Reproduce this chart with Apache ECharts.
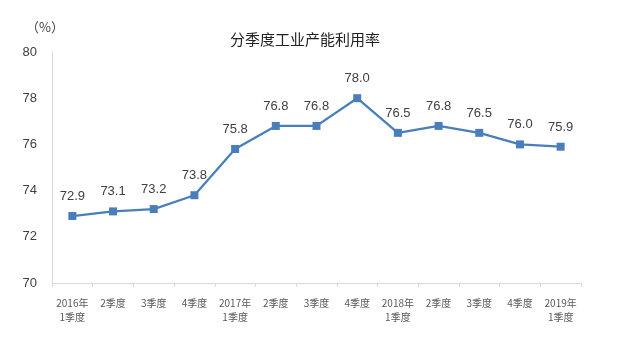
<!DOCTYPE html>
<html>
<head>
<meta charset="utf-8">
<script src="https://cdn.jsdelivr.net/npm/echarts@6/dist/echarts.min.js"></script>
<style>
  html, body { margin: 0; padding: 0; background: #fff; }
  #chart { width: 641px; height: 341px; }
</style>
</head>
<body>
<div id="chart"></div>
<script>
// Quarterly industrial capacity utilisation rate (%)
const categories = [
  '2016年\n1季度', '2季度', '3季度', '4季度',
  '2017年\n1季度', '2季度', '3季度', '4季度',
  '2018年\n1季度', '2季度', '3季度', '4季度',
  '2019年\n1季度'
];
const utilisation = [72.9, 73.1, 73.2, 73.8, 75.8, 76.8, 76.8, 78.0, 76.5, 76.8, 76.5, 76.0, 75.9];
const yTicks = [70, 72, 74, 76, 78, 80];

const fontCN = '"Microsoft YaHei", "Noto Sans CJK SC", sans-serif';

const chart = echarts.init(document.getElementById('chart'), null, { renderer: 'canvas' });
chart.setOption({
  animation: false,
  backgroundColor: '#ffffff',
  title: {
    text: '分季度工业产能利用率',
    left: 300,
    top: 27,
    textAlign: 'center',
    textStyle: { fontFamily: fontCN, fontSize: 15, fontWeight: 'normal', color: '#222' }
  },
  graphic: [{
    type: 'text',
    left: 26,
    top: 21,
    style: { text: '（%）', font: '13px ' + fontCN, fill: '#404040' }
  }],
  grid: { left: 52, right: 60, top: 52, bottom: 58 },
  xAxis: {
    type: 'category',
    data: categories,
    boundaryGap: true,
    axisLine: { lineStyle: { color: '#d9d9d9', width: 1 } },
    axisTick: { show: true, length: 4, lineStyle: { color: '#d9d9d9' } },
    axisLabel: {
      interval: 0,
      margin: 13,
      fontFamily: fontCN,
      fontSize: 10,
      lineHeight: 14,
      color: '#595959'
    }
  },
  yAxis: {
    type: 'value',
    min: yTicks[0],
    max: yTicks[yTicks.length - 1],
    interval: 2,
    axisLine: { show: true, lineStyle: { color: '#d9d9d9', width: 1 } },
    axisTick: { show: false },
    splitLine: { show: false },
    axisLabel: {
      margin: 15,
      fontFamily: '"Liberation Sans", Arial, sans-serif',
      fontSize: 13,
      color: '#404040'
    }
  },
  series: [{
    type: 'line',
    data: utilisation,
    symbol: 'rect',
    symbolSize: 8,
    lineStyle: { color: '#4a7ebb', width: 2.25 },
    itemStyle: { color: '#4a7ebb' },
    label: {
      show: true,
      position: 'top',
      distance: 9,
      fontFamily: '"Liberation Sans", Arial, sans-serif',
      fontSize: 13,
      color: '#404040',
      formatter: p => p.value.toFixed(1)
    }
  }]
});
</script>
</body>
</html>
